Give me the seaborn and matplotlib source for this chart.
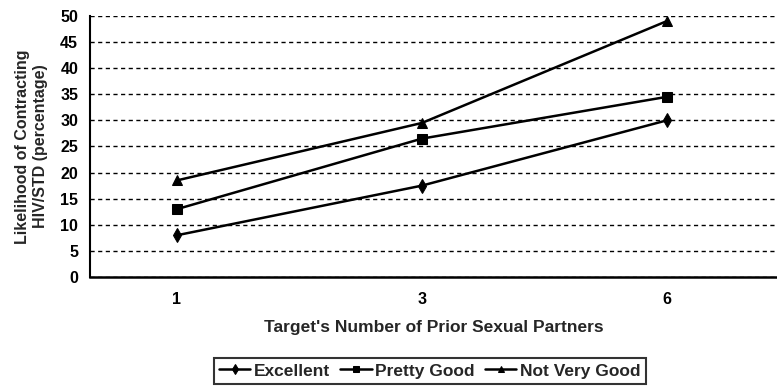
import matplotlib
matplotlib.use("Agg")
import matplotlib.pyplot as plt
import seaborn as sns
import pandas as pd

partners = ["1", "3", "6"]
excellent = [8, 17.5, 30]
pretty_good = [13, 26.5, 34.5]
not_very_good = [18.5, 29.5, 49]
series_names = ["Excellent", "Pretty Good", "Not Very Good"]
y_ticks = [0, 5, 10, 15, 20, 25, 30, 35, 40, 45, 50]

rows = []
for name, vals in zip(series_names, [excellent, pretty_good, not_very_good]):
    for p, v in zip(partners, vals):
        rows.append({"Partners": p, "Likelihood": v, "Rating": name})
df = pd.DataFrame(rows)

sns.set_theme(style="white")
plt.rcParams["font.family"] = ["Liberation Sans", "DejaVu Sans"]
plt.rcParams["font.weight"] = "bold"

fig = plt.figure(figsize=(7.77, 3.88), dpi=100)
ax = fig.add_axes([0.1158, 0.286, 0.8842, 0.673])

sns.lineplot(data=df, x="Partners", y="Likelihood", hue="Rating", style="Rating",
             hue_order=series_names, style_order=series_names,
             palette=["black"] * 3, markers={"Excellent": "d", "Pretty Good": "s", "Not Very Good": "^"},
             dashes=False, linewidth=1.8, markersize=7, markeredgecolor="black",
             ax=ax, legend=True, sort=False)

ax.set_xlim(-0.355, 2.45)
ax.set_ylim(0, 50)
ax.set_yticks(y_ticks)
ax.yaxis.grid(True, linestyle=(0, (3, 2.5)), color="black", linewidth=1.0)
ax.xaxis.grid(False)
for s in ["top", "right"]:
    ax.spines[s].set_visible(False)
ax.spines["left"].set_color("black")
ax.spines["bottom"].set_color("black")
ax.spines["left"].set_linewidth(1.5)
ax.spines["bottom"].set_linewidth(1.8)
ax.tick_params(axis="y", direction="inout", length=7, width=1.2, colors="black", labelsize=11.5, pad=5)
ax.tick_params(axis="x", length=0, colors="black", labelsize=11.5, pad=11)
for lab in ax.get_xticklabels() + ax.get_yticklabels():
    lab.set_fontweight("bold")

ax.set_xlabel("Target's Number of Prior Sexual Partners", fontsize=12.5, fontweight="bold", labelpad=9)
ax.set_ylabel("Likelihood of Contracting\nHIV/STD (percentage)", fontsize=11.5, fontweight="bold", labelpad=9)

handles, labels = ax.get_legend_handles_labels()
leg = ax.legend(handles, labels, loc="center", bbox_to_anchor=(0.553, 0.044), bbox_transform=fig.transFigure,
                ncol=3, frameon=True, fancybox=False, edgecolor="black",
                handlelength=1.8, handletextpad=0.2, columnspacing=0.6, borderpad=0.3,
                prop={"weight": "bold", "size": 12.5})
leg.get_frame().set_linewidth(1.5)
for h in leg.legend_handles:
    h.set_markersize(5)

fig.savefig("out.png", dpi=100)
